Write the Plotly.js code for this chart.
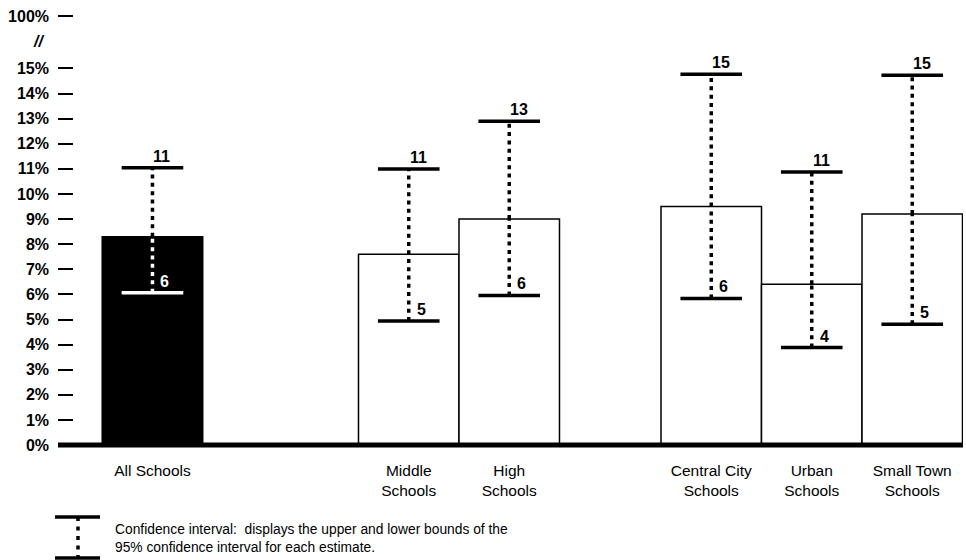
<!DOCTYPE html>
<html>
<head>
<meta charset="utf-8">
<script src="https://cdn.plot.ly/plotly-3.0.1.min.js"></script>
<style>
  html, body { margin: 0; padding: 0; background: #fff; }
  #chart { width: 966px; height: 560px; }
</style>
</head>
<body>
<div id="chart"></div>
<script>
// ---- data ----
const categories = ['All Schools', 'Middle<br>Schools', 'High<br>Schools', 'Central City<br>Schools', 'Urban<br>Schools', 'Small Town<br>Schools'];
const groups = [0, 1, 1, 2, 2, 2];
const estimates = [8.3, 7.6, 9.0, 9.5, 6.4, 9.2];
const ciUpper = [11.05, 11.0, 12.9, 14.77, 10.88, 14.73];
const ciLower = [6.07, 4.94, 5.96, 5.84, 3.88, 4.81];
const upperLabels = ['11', '11', '13', '15', '11', '15'];
const lowerLabels = ['6', '5', '6', '6', '4', '5'];
const yTickValues = [0, 1, 2, 3, 4, 5, 6, 7, 8, 9, 10, 11, 12, 13, 14, 15];
const yTickLabels = ['0%', '1%', '2%', '3%', '4%', '5%', '6%', '7%', '8%', '9%', '10%', '11%', '12%', '13%', '14%', '15%'];
const yTopLabel = '100%';
const legendText = 'Confidence interval:&nbsp; displays the upper and lower bounds of the<br>95% confidence interval for each estimate.';

// ---- layout constants ----
const FONT = 'Liberation Sans, Arial, Helvetica, sans-serif';
const LEFT_PAD = 0.44;
const GROUP_GAPS = [1.55, 1.01];
const BREAK_GAP = 2.09;
const Y_MAX = 17.33;

// positions from group structure
const xs = [];
let edge = LEFT_PAD;
for (let i = 0; i < categories.length; i++) {
  if (i > 0 && groups[i] !== groups[i - 1]) edge += GROUP_GAPS[groups[i - 1]];
  xs.push(edge + 0.5);
  edge += 1;
}
const darkIdx = 0;
const barFill = categories.map((c, i) => i === darkIdx ? '#000' : '#fff');

const traces = [];
traces.push({
  type: 'bar', x: xs, y: estimates, width: 1,
  marker: { color: barFill, line: { color: '#000', width: 1.5 } },
  hoverinfo: 'skip', showlegend: false
});

// error bars: dotted stem + caps
for (let i = 0; i < categories.length; i++) {
  const inside = barFill[i] === '#000' ? '#fff' : '#000';
  const dash = '4px,4.3px';
  traces.push({
    type: 'scatter', mode: 'lines', x: [xs[i], xs[i]], y: [ciLower[i], Math.min(estimates[i], ciUpper[i])],
    line: { color: inside, width: 3.5, dash: dash }, hoverinfo: 'skip', showlegend: false
  });
  if (ciUpper[i] > estimates[i]) {
    traces.push({
      type: 'scatter', mode: 'lines', x: [xs[i], xs[i]], y: [estimates[i], ciUpper[i]],
      line: { color: '#000', width: 3.5, dash: dash }, hoverinfo: 'skip', showlegend: false
    });
  }
  traces.push({
    type: 'scatter', mode: 'markers', x: [xs[i], xs[i]], y: [ciLower[i], ciUpper[i]],
    marker: { symbol: 'line-ew', size: 44,
      line: { width: 3.5, color: [ciLower[i] < estimates[i] ? inside : '#000', ciUpper[i] < estimates[i] ? inside : '#000'] } },
    hoverinfo: 'skip', showlegend: false
  });
}

const annotations = [];
for (let i = 0; i < categories.length; i++) {
  const inside = barFill[i] === '#000' ? '#fff' : '#000';
  annotations.push({
    x: xs[i], y: ciUpper[i], xref: 'x', yref: 'y', text: upperLabels[i], showarrow: false,
    xanchor: 'left', yanchor: 'bottom', xshift: -1, yshift: 1,
    font: { family: FONT, size: 16, color: '#000', weight: 'bold' }
  });
  annotations.push({
    x: xs[i], y: ciLower[i], xref: 'x', yref: 'y', text: lowerLabels[i], showarrow: false,
    xanchor: 'left', yanchor: 'bottom', xshift: 6, yshift: 1,
    font: { family: FONT, size: 16, color: ciLower[i] < estimates[i] ? inside : '#000', weight: 'bold' }
  });
}
// axis break mark
annotations.push({
  x: 0, y: 15 + BREAK_GAP / 2 + 0.05, xref: 'paper', yref: 'y', xshift: -27, text: '<i><b>//</b></i>', showarrow: false,
  font: { family: FONT, size: 16, color: '#000' }
});
// legend text
annotations.push({
  x: 0.061, y: -0.215, xref: 'paper', yref: 'paper', xanchor: 'left', yanchor: 'middle', align: 'left',
  text: legendText, showarrow: false, font: { family: FONT, size: 13.8, color: '#000' }
});

const shapes = [
  // thick baseline
  { type: 'line', xref: 'paper', yref: 'paper', x0: 0, x1: 1, y0: 0, y1: 0, line: { color: '#000', width: 5 }, layer: 'above' },
  // legend key
  { type: 'line', xref: 'paper', yref: 'paper', x0: -0.0033, x1: 0.0464, y0: -0.1655, y1: -0.1655, line: { color: '#000', width: 3.5 } },
  { type: 'line', xref: 'paper', yref: 'paper', x0: -0.0033, x1: 0.0464, y0: -0.26, y1: -0.26, line: { color: '#000', width: 3.5 } },
  { type: 'line', xref: 'paper', yref: 'paper', x0: 0.0221, x1: 0.0221, y0: -0.1655, y1: -0.26, line: { color: '#000', width: 3.5, dash: '4px,5.5px' } }
];

const layout = {
  width: 966, height: 560,
  margin: { l: 58, r: 3, t: 10, b: 115 },
  paper_bgcolor: '#fff', plot_bgcolor: '#fff',
  showlegend: false,
  font: { family: FONT, color: '#000' },
  xaxis: {
    range: [0, 9.005], tickvals: xs, ticktext: categories, ticks: '', showgrid: false, zeroline: false,
    showline: false, tickfont: { family: FONT, size: 15.5, color: '#000' }, ticklabelstandoff: 14, fixedrange: true
  },
  yaxis: {
    range: [0, Y_MAX], tickvals: yTickValues.concat([15 + BREAK_GAP]), ticktext: yTickLabels.concat([yTopLabel]),
    ticks: 'inside', ticklen: 15, tickwidth: 2, tickcolor: '#000', showgrid: false, zeroline: false, showline: false,
    tickfont: { family: FONT, size: 16, color: '#000', weight: 'bold' }, ticklabelstandoff: 8, fixedrange: true
  },
  annotations: annotations,
  shapes: shapes
};

Plotly.newPlot('chart', traces, layout, { displayModeBar: false, staticPlot: true });
</script>
</body>
</html>
